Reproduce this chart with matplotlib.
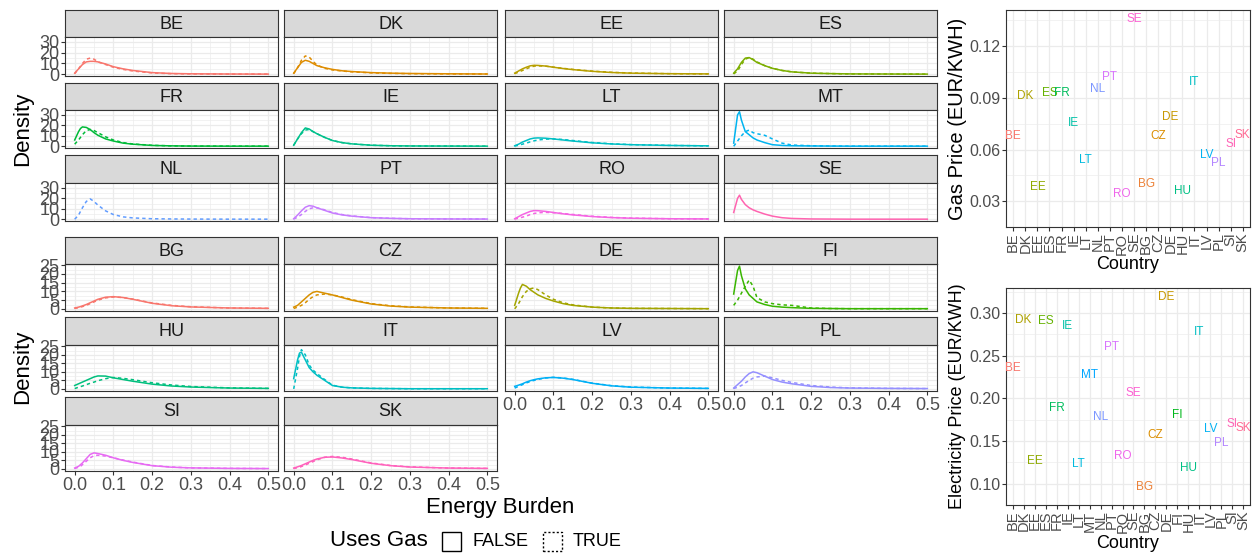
import numpy as np
import matplotlib
matplotlib.use("Agg")
import matplotlib.pyplot as plt
from matplotlib.patches import Rectangle

plt.rcParams['font.family'] = ['Liberation Sans', 'DejaVu Sans']

# energy burden grid shared by every density curve
burden = [0, 0.01, 0.015, 0.02, 0.03, 0.04, 0.05, 0.06, 0.08, 0.1, 0.125, 0.15, 0.2, 0.25, 0.3, 0.4, 0.5]

countries_top = ["BE", "DK", "EE", "ES", "FR", "IE", "LT", "MT", "NL", "PT", "RO", "SE"]
countries_bot = ["BG", "CZ", "DE", "FI", "HU", "IT", "LV", "PL", "SI", "SK"]

# density, households without gas (solid) and with gas (dashed)
top_false = {
    "BE": [1, 5, 7, 9, 11.5, 12, 12, 11.5, 9.5, 7, 5, 3.5, 1.5, 0.7, 0.4, 0.2, 0.1],
    "DK": [1, 6, 8.5, 11, 13, 12, 10, 8, 6, 4.5, 3.2, 2.5, 1.5, 1, 0.7, 0.4, 0.2],
    "EE": [1, 3, 4, 5, 6.5, 7.8, 8.3, 8.2, 7.6, 6.5, 5.3, 4.3, 2.7, 1.6, 1, 0.5, 0.3],
    "ES": [1, 5, 8, 11, 15, 15.5, 13.5, 11, 8, 5.5, 3.5, 2.2, 1, 0.6, 0.3, 0.2, 0.1],
    "FR": [6, 14, 17, 18.5, 18, 16, 13, 10.5, 7, 5, 3, 2, 0.8, 0.4, 0.2, 0.1, 0.1],
    "IE": [1, 7, 10, 13, 17.5, 16.5, 14, 12, 8.5, 5.5, 3.5, 2.3, 1, 0.5, 0.3, 0.2, 0.1],
    "LT": [0.5, 2, 3, 4, 5.5, 7, 7.8, 8, 7.7, 7, 6, 5, 3.3, 2.2, 1.5, 0.8, 0.4],
    "MT": [3, 30, 33, 25, 14, 11, 8, 6, 3.5, 1.5, 0.8, 0.5, 0.3, 0.2, 0.1, 0.1, 0.1],
    "NL": None,
    "PT": [0.5, 4, 6, 8, 11.5, 13, 12.5, 11, 8.5, 6, 4.2, 3, 1.5, 0.9, 0.5, 0.3, 0.2],
    "RO": [0.5, 2.5, 3.5, 4.5, 6, 7.5, 8.3, 8.2, 7.5, 6.5, 5.2, 4.2, 2.6, 1.6, 1, 0.5, 0.3],
    "SE": [6.5, 20, 23, 19, 14, 11, 9, 7.5, 5, 3, 1.5, 0.8, 0.3, 0.2, 0.1, 0.1, 0.1],
}
top_true = {
    "BE": [0.5, 5, 7.5, 10, 14, 15, 14, 11.5, 9, 6.5, 4.5, 3, 1.2, 0.5, 0.3, 0.1, 0.1],
    "DK": [0.5, 6, 9.5, 13, 17, 16, 12, 8.5, 5.5, 4, 3, 2.2, 1.3, 0.8, 0.5, 0.3, 0.2],
    "EE": [0.5, 2, 2.7, 3.5, 5, 6.5, 7.5, 7.8, 7.5, 6.6, 5.5, 4.5, 2.9, 1.8, 1.1, 0.5, 0.3],
    "ES": [0.3, 3, 6, 9, 14, 15.5, 14, 11.5, 8, 5.5, 3.5, 2.2, 1, 0.6, 0.3, 0.2, 0.1],
    "FR": [2, 6, 8.5, 11, 15, 16, 15, 13, 9, 6, 3.5, 2.2, 0.9, 0.4, 0.2, 0.1, 0.1],
    "IE": [1, 7, 9.5, 12, 15.5, 16, 14, 12, 8.5, 5.5, 3.5, 2.3, 1, 0.5, 0.3, 0.2, 0.1],
    "LT": [0.2, 1, 1.5, 2, 3, 4.2, 5.2, 6, 6.8, 7, 6.5, 5.5, 3.6, 2.4, 1.6, 0.8, 0.4],
    "MT": [0, 5, 7.5, 10, 14, 15.5, 13, 12, 10.5, 7, 3, 1.2, 0.5, 0.2, 0.1, 0.1, 0.1],
    "NL": [0, 4, 7.5, 11, 17, 19.5, 17, 13.5, 8, 4.5, 2.3, 1.3, 0.5, 0.3, 0.2, 0.1, 0.1],
    "PT": [0.2, 2, 3.2, 4.5, 7.5, 10, 11, 11, 9, 6.5, 4.5, 3.2, 1.6, 0.9, 0.5, 0.3, 0.2],
    "RO": [0.2, 1, 1.5, 2, 3, 4.5, 5.5, 6.2, 6.6, 6.3, 5.5, 4.6, 2.9, 1.8, 1.1, 0.5, 0.3],
    "SE": None,
}
bot_false = {
    "BG": [0.5, 1, 1.3, 1.7, 2.5, 3.5, 4.5, 5.5, 6.7, 7, 6.5, 5.5, 3.2, 1.8, 1.1, 0.5, 0.3],
    "CZ": [1, 2, 3, 4, 6, 8, 9.5, 10, 9, 8, 6.5, 5, 2.8, 1.6, 1, 0.5, 0.3],
    "DE": [2, 9, 12, 14, 13, 11, 9.5, 8, 6, 4.5, 3, 2, 1, 0.5, 0.3, 0.2, 0.1],
    "FI": [8.5, 22, 24.5, 19, 11.5, 8, 6, 4, 2.5, 1.5, 1, 0.7, 0.3, 0.2, 0.1, 0.1, 0.1],
    "HU": [2, 3, 3.5, 4, 5, 6, 7, 7.6, 7.5, 6.5, 5.5, 4.5, 2.8, 1.7, 1.1, 0.5, 0.3],
    "IT": [6, 17, 21, 21.5, 17, 12.5, 10, 8, 5, 2, 1, 0.6, 0.3, 0.2, 0.1, 0.1, 0.1],
    "LV": [1.5, 2.2, 2.6, 3, 4, 4.8, 5.4, 5.9, 6.5, 6.7, 6.3, 5.5, 3.3, 1.8, 1, 0.5, 0.3],
    "PL": [0.5, 2.5, 3.5, 4.5, 7, 9, 10, 9.5, 7.5, 5.5, 4, 3, 1.5, 0.8, 0.5, 0.3, 0.2],
    "SI": [0.5, 1.5, 2.5, 3.5, 6, 8.5, 9.4, 9, 8, 6.5, 5, 3.8, 1.9, 1, 0.6, 0.3, 0.2],
    "SK": [0.5, 1.2, 1.6, 2, 3, 4, 5, 5.8, 6.8, 7, 6.4, 5.5, 3.3, 1.9, 1.1, 0.5, 0.3],
}
bot_true = {
    "BG": [0.2, 0.7, 1, 1.3, 2, 3, 4, 5, 6.3, 6.8, 6.5, 5.6, 3.4, 2, 1.2, 0.5, 0.3],
    "CZ": [0.2, 1, 1.5, 2, 3.5, 5.5, 7, 8, 8.5, 8, 6.8, 5.3, 3, 1.8, 1.1, 0.5, 0.3],
    "DE": [0, 3, 5, 7, 10, 11.5, 12, 11, 8, 5.5, 3.5, 2.3, 1, 0.5, 0.3, 0.2, 0.1],
    "FI": [2, 5, 7, 9, 13, 16.5, 13, 6.5, 4, 3, 2.3, 2, 0.5, 0.2, 0.1, 0.1, 0.1],
    "HU": [0.2, 1, 1.3, 1.7, 2.5, 3.3, 4, 4.8, 6, 6.7, 6.2, 5.4, 3.6, 2.3, 1.4, 0.6, 0.3],
    "IT": [0, 12, 19, 23, 20, 14, 11, 9, 5.5, 2.2, 1, 0.6, 0.3, 0.2, 0.1, 0.1, 0.1],
    "LV": [0.5, 1.5, 2, 2.5, 3.5, 4.3, 5, 5.6, 6.4, 6.8, 6.4, 5.6, 3.4, 1.9, 1.1, 0.5, 0.3],
    "PL": [0.2, 1, 1.5, 2, 3.5, 5, 6.3, 7, 7.5, 6.5, 5, 3.8, 2, 1.1, 0.6, 0.3, 0.2],
    "SI": [0.2, 1, 1.5, 2.5, 4.5, 6.5, 7.8, 8, 7.5, 6.5, 5.2, 4, 2, 1.1, 0.6, 0.3, 0.2],
    "SK": [0.2, 0.7, 1, 1.4, 2.3, 3.3, 4.3, 5.3, 6.8, 7.3, 6.8, 5.8, 3.5, 2, 1.2, 0.5, 0.3],
}

# prices per country
gas_countries = ["BE", "DK", "EE", "ES", "FR", "IE", "LT", "NL", "PT", "RO", "SE",
                 "BG", "CZ", "DE", "HU", "IT", "LV", "PL", "SI", "SK"]
gas_price = [0.068, 0.091, 0.038, 0.093, 0.093, 0.0755, 0.054, 0.095, 0.102, 0.034, 0.136,
             0.040, 0.068, 0.079, 0.036, 0.099, 0.057, 0.052, 0.063, 0.0687]
elec_countries = ["BE", "DK", "EE", "ES", "FR", "IE", "LT", "MT", "NL", "PT", "RO", "SE",
                  "BG", "CZ", "DE", "FI", "HU", "IT", "LV", "PL", "SI", "SK"]
elec_price = [0.236, 0.292, 0.126, 0.291, 0.189, 0.285, 0.123, 0.2275, 0.178, 0.2595, 0.132, 0.206,
              0.0955, 0.157, 0.318, 0.180, 0.118, 0.278, 0.164, 0.148, 0.170, 0.165]


def hue_pal(n):
    # ggplot-style HCL hues (c=100, l=65)
    M = np.array([[3.2404542, -1.5371385, -0.4985314],
                  [-0.9692660, 1.8760108, 0.0415560],
                  [0.0556434, -0.2040259, 1.0572252]])
    L, C = 65.0, 100.0
    Y = ((L + 16) / 116) ** 3
    den = 0.95047 + 15 + 3 * 1.08883
    un, vn = 4 * 0.95047 / den, 9 / den
    cols = []
    for i in range(n):
        h = np.deg2rad(15 + 360 * i / n)
        up = C * np.cos(h) / (13 * L) + un
        vp = C * np.sin(h) / (13 * L) + vn
        X = Y * 9 * up / (4 * vp)
        Z = Y * (12 - 3 * up - 20 * vp) / (4 * vp)
        rgb = M @ np.array([X, Y, Z])
        rgb = np.where(rgb <= 0.0031308, 12.92 * rgb,
                       1.055 * np.abs(rgb) ** (1 / 2.4) - 0.055)
        cols.append(tuple(np.clip(rgb, 0, 1)))
    return cols


W, H = 1254, 556
fig = plt.figure(figsize=(W / 100, H / 100), dpi=100)


def box(x0, y0, x1, y1):
    return fig.add_axes([x0 / W, 1 - y1 / H, (x1 - x0) / W, (y1 - y0) / H])


GRID = '#EBEBEB'
EDGE = '#333333'
TICKC = '#4D4D4D'


def style_panel(ax):
    for s in ax.spines.values():
        s.set_color(EDGE)
        s.set_linewidth(0.8)
    ax.set_axisbelow(True)
    ax.grid(which='major', color=GRID, lw=0.9)
    ax.grid(which='minor', color=GRID, lw=0.45)
    ax.tick_params(which='minor', length=0)
    ax.tick_params(which='major', color=EDGE, length=3, width=0.8,
                   labelcolor=TICKC, pad=1)


def facet_grid(names, d_false, d_true, cols, rows, yticks, ystep):
    pal = hue_pal(len(names))
    ymax = max(max(v) for d in (d_false, d_true) for v in d.values() if v)
    ylim = (-0.05 * ymax, 1.05 * ymax)
    for k, name in enumerate(names):
        r, c = divmod(k, 4)
        x0 = cols[c]
        st_top, st_bot, p_bot = rows[r]
        st = box(x0, st_top, x0 + 213, st_bot)
        st.set_facecolor('#D9D9D9')
        st.set_xticks([])
        st.set_yticks([])
        for s in st.spines.values():
            s.set_color(EDGE)
            s.set_linewidth(0.8)
        st.text(0.5, 0.48, name, ha='center', va='center', fontsize=13,
                color='#1A1A1A', transform=st.transAxes)

        ax = box(x0, st_bot, x0 + 213, p_bot)
        style_panel(ax)
        ax.set_xlim(-0.025, 0.525)
        ax.set_ylim(*ylim)
        ax.set_xticks(np.arange(0, 0.51, 0.1))
        ax.set_xticks(np.arange(0.05, 0.5, 0.1), minor=True)
        ax.set_yticks(yticks)
        ax.set_yticks(np.arange(ystep / 2, ymax * 1.05, ystep), minor=True)
        if d_false[name]:
            ax.plot(burden, d_false[name], color=pal[k], lw=1.1)
        if d_true[name]:
            ax.plot(burden, d_true[name], color=pal[k], lw=1.1, ls=(0, (2.2, 2.0)))
        yield ax, r, c


top_cols = [65, 284, 505, 724]
top_rows = [(10, 37, 76), (83, 110, 148), (155, 183, 221)]
for ax, r, c in facet_grid(countries_top, top_false, top_true, top_cols, top_rows,
                           [0, 10, 20, 30], 10):
    ax.tick_params(axis='x', bottom=False, labelbottom=False)
    if c == 0:
        ax.set_yticklabels(['0', '10', '20', '30'], fontsize=13)
    else:
        ax.tick_params(axis='y', left=False, labelleft=False)

bot_rows = [(237, 264, 311), (317, 345, 391), (397, 425, 471)]
n_bot = len(countries_bot)
for ax, r, c in facet_grid(countries_bot, bot_false, bot_true, top_cols, bot_rows,
                           [0, 5, 10, 15, 20, 25], 5):
    if c == 0:
        ax.set_yticklabels(['0', '5', '10', '15', '20', '25'], fontsize=13)
    else:
        ax.tick_params(axis='y', left=False, labelleft=False)
    if (r + 1) * 4 + c >= n_bot:
        ax.set_xticklabels(['0.0', '0.1', '0.2', '0.3', '0.4', '0.5'], fontsize=13)
    else:
        ax.tick_params(axis='x', bottom=False, labelbottom=False)

fig.text(23 / W, 1 - 129 / H, 'Density', rotation=90, ha='center', va='center', fontsize=16)
fig.text(23 / W, 1 - 367 / H, 'Density', rotation=90, ha='center', va='center', fontsize=16)
fig.text(500 / W, 1 - 507 / H, 'Energy Burden', ha='center', va='center', fontsize=16)

# legend for the linetype
fig.text(330 / W, 1 - 541 / H, 'Uses Gas', ha='left', va='center', fontsize=16)
fig.add_artist(Rectangle((442 / W, 1 - 551 / H), 19 / W, 19 / H, transform=fig.transFigure,
                         fill=False, edgecolor='black', lw=1.0))
fig.text(473 / W, 1 - 541 / H, 'FALSE', ha='left', va='center', fontsize=13)
fig.add_artist(Rectangle((543 / W, 1 - 551 / H), 19 / W, 19 / H, transform=fig.transFigure,
                         fill=False, edgecolor='black', lw=1.0, ls=(0, (1.5, 1.5))))
fig.text(573 / W, 1 - 541 / H, 'TRUE', ha='left', va='center', fontsize=13)

# price scatter panels
all_countries = sorted(set(elec_countries))
pal22 = dict(zip(all_countries, hue_pal(len(all_countries))))


def price_panel(y0, y1, names, prices, yticks, ylabels, ylab, ylab_size, country_y):
    ax = box(1006, y0, 1250, y1)
    style_panel(ax)
    pos = np.arange(1, len(names) + 1)
    lo, hi = min(prices), max(prices)
    pad = 0.05 * (hi - lo)
    ax.set_xlim(0.4, len(names) + 0.6)
    ax.set_ylim(lo - pad, hi + pad)
    ax.set_xticks(pos)
    ax.set_xticklabels(names, rotation=90, fontsize=10.5)
    ax.set_yticks(yticks)
    ax.set_yticklabels(ylabels, fontsize=11.5)
    step = yticks[1] - yticks[0]
    ax.set_yticks(np.arange(yticks[0] - step / 2, hi + pad, step), minor=True)
    for p, name, v in zip(pos, names, prices):
        ax.text(p, v, name, ha='center', va='center', fontsize=8.5,
                color=pal22[name], clip_on=True)
    fig.text(958 / W, 1 - (y0 + y1) / 2 / H, ylab, rotation=90, ha='center',
             va='center', fontsize=ylab_size)
    fig.text(1128 / W, 1 - country_y / H, 'Country', ha='center', va='center', fontsize=13)
    return ax


price_panel(10, 227, gas_countries, gas_price, [0.03, 0.06, 0.09, 0.12],
            ['0.03', '0.06', '0.09', '0.12'], 'Gas Price (EUR/KWH)', 14.5, 265)
price_panel(288, 505, elec_countries, elec_price, [0.10, 0.15, 0.20, 0.25, 0.30],
            ['0.10', '0.15', '0.20', '0.25', '0.30'], 'Electricity Price (EUR/KWH)', 13, 543)

fig.savefig('out.png', dpi=100, facecolor='white')
